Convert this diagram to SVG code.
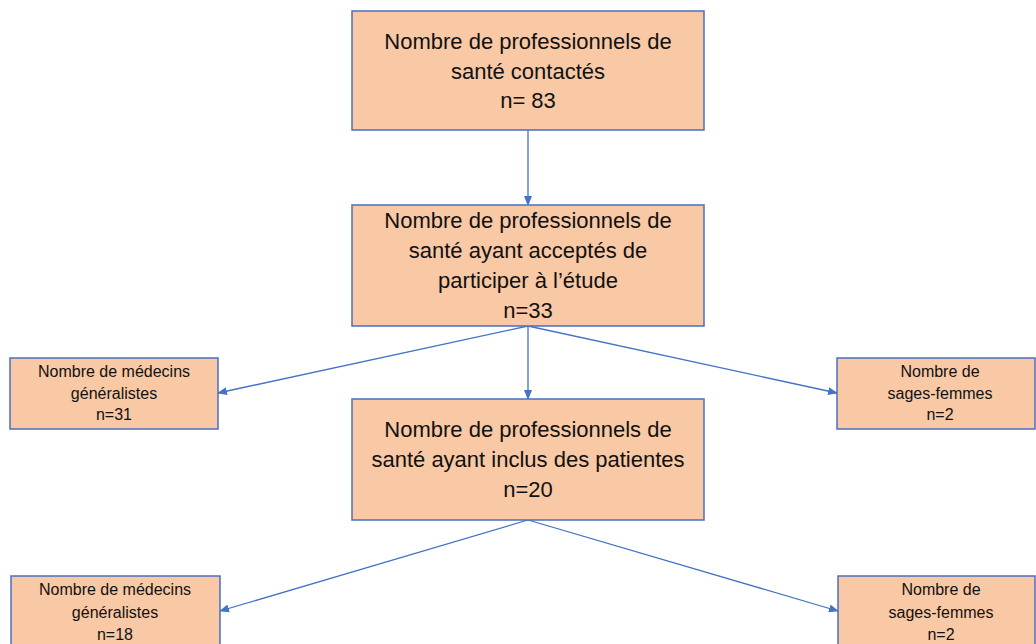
<svg xmlns="http://www.w3.org/2000/svg" width="1036" height="644" viewBox="0 0 1036 644">
<style>
.box{fill:#F9C8A5;stroke:#4A6FC0;stroke-width:1.5}
.big{font-family:"Liberation Sans",Arial,sans-serif;font-size:22px;fill:#111;text-anchor:middle}
.sm{font-family:"Liberation Sans",Arial,sans-serif;font-size:16px;fill:#111;text-anchor:middle}
.con{stroke:#4472C4;stroke-width:1.3;fill:none;marker-end:url(#ah)}
</style>
<defs>
<marker id="ah" markerWidth="10" markerHeight="8" refX="9" refY="4" orient="auto" markerUnits="userSpaceOnUse">
<path d="M0,0 L10,4 L0,8 Z" fill="#4472C4"/>
</marker>
</defs>
<rect width="1036" height="644" fill="#fff"/>
<g id="connectors">
<line class="con" x1="528" y1="130" x2="528" y2="205"/>
<line class="con" x1="528" y1="326" x2="218" y2="393"/>
<line class="con" x1="528" y1="326" x2="528" y2="399"/>
<line class="con" x1="528" y1="326" x2="837" y2="393"/>
<line class="con" x1="528" y1="520" x2="220" y2="611"/>
<line class="con" x1="528" y1="520" x2="838" y2="611"/>
</g>
<g id="n1">
<rect class="box" x="352" y="11" width="352" height="119"/>
<text class="big" x="528" y="49">Nombre de professionnels de</text>
<text class="big" x="528" y="79">santé contactés</text>
<text class="big" x="528" y="108">n= 83</text>
</g>
<g id="n2">
<rect class="box" x="352" y="205" width="352" height="121"/>
<text class="big" x="528" y="228">Nombre de professionnels de</text>
<text class="big" x="528" y="258">santé ayant acceptés de</text>
<text class="big" x="528" y="288">participer à l’étude</text>
<text class="big" x="528" y="318">n=33</text>
</g>
<g id="n3">
<rect class="box" x="352" y="399" width="352" height="121"/>
<text class="big" x="528" y="437">Nombre de professionnels de</text>
<text class="big" x="528" y="467">santé ayant inclus des patientes</text>
<text class="big" x="528" y="497">n=20</text>
</g>
<g id="n4">
<rect class="box" x="10" y="358" width="208" height="71"/>
<text class="sm" x="114" y="377">Nombre de médecins</text>
<text class="sm" x="114" y="399">généralistes</text>
<text class="sm" x="114" y="420">n=31</text>
</g>
<g id="n5">
<rect class="box" x="837" y="358" width="198" height="71"/>
<text class="sm" x="940" y="377">Nombre de</text>
<text class="sm" x="940" y="399">sages-femmes</text>
<text class="sm" x="940" y="420">n=2</text>
</g>
<g id="n6">
<rect class="box" x="11" y="576" width="209" height="75"/>
<text class="sm" x="115" y="595">Nombre de médecins</text>
<text class="sm" x="115" y="618">généralistes</text>
<text class="sm" x="115" y="640">n=18</text>
</g>
<g id="n7">
<rect class="box" x="838" y="576" width="197" height="75"/>
<text class="sm" x="941" y="595">Nombre de</text>
<text class="sm" x="941" y="618">sages-femmes</text>
<text class="sm" x="941" y="640">n=2</text>
</g>
</svg>
